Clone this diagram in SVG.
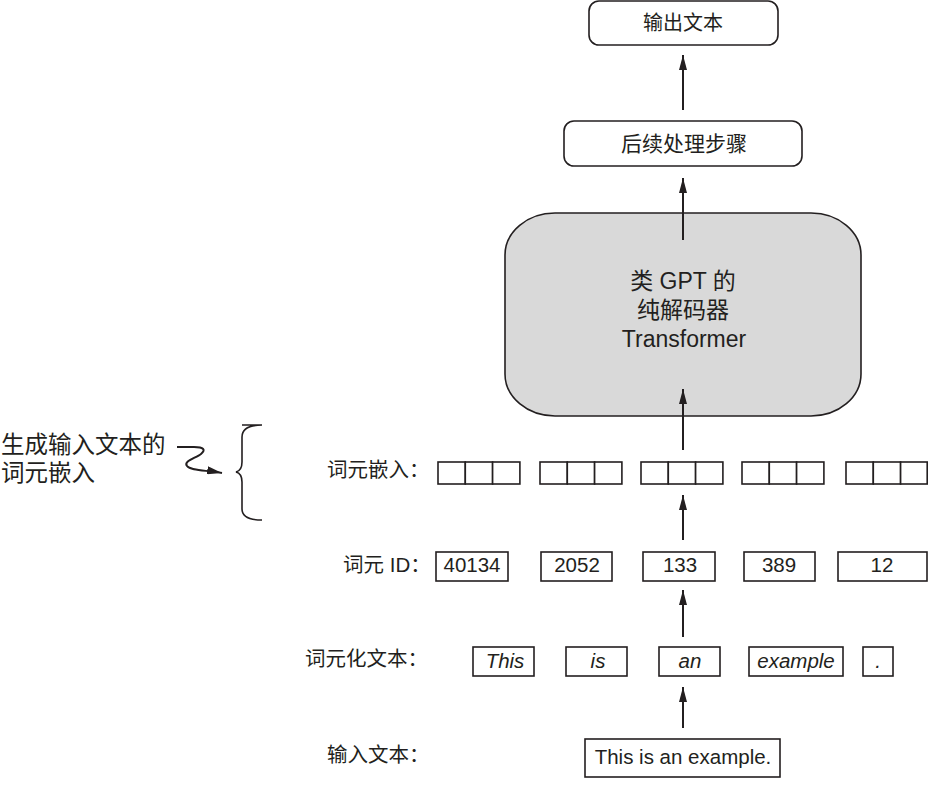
<svg xmlns="http://www.w3.org/2000/svg" width="928" height="793" viewBox="0 0 928 793">
<defs>
<style>
.bx{fill:#fff;stroke:#231f20;stroke-width:1.6}
.cell{fill:#fff;stroke:#231f20;stroke-width:1.6}
.t{font-family:"Liberation Sans","Noto Sans CJK SC",sans-serif;fill:#231f20}
.c{text-anchor:middle}
.lab{font-size:20.5px}
.num{font-size:20.5px}
.it{font-size:20.5px;font-style:italic}
.ar{stroke:#231f20;stroke-width:2;fill:none;marker-end:url(#ah)}
</style>
<marker id="ah" viewBox="0 0 15 8" refX="15" refY="4" markerWidth="15" markerHeight="8" markerUnits="userSpaceOnUse" orient="auto">
<path d="M0,0 L15,4 L0,8 z" fill="#231f20"/>
</marker>
</defs>
<rect width="928" height="793" fill="#fff"/>

<g id="output">
<rect class="bx" x="589" y="1" width="189" height="44" rx="10"/>
<text class="t c" x="683" y="30" font-size="20">输出文本</text>
</g>

<g id="postprocess">
<rect class="bx" x="564" y="121" width="238" height="45" rx="10"/>
<text class="t c" x="684" y="151" font-size="21">后续处理步骤</text>
</g>

<g id="transformer">
<rect x="505" y="213" width="356" height="203" rx="50" ry="42" fill="#d9d9d9" stroke="#231f20" stroke-width="1.6"/>
<text class="t c" x="683" y="289" font-size="23">类 GPT 的</text>
<text class="t c" x="683" y="318" font-size="23">纯解码器</text>
<text class="t c" x="684" y="347" font-size="23">Transformer</text>
</g>

<g id="side-note">
<text class="t" x="1" y="453" font-size="23.5">生成输入文本的</text>
<text class="t" x="1" y="481" font-size="23.5">词元嵌入</text>
<path d="M242,425 L262,425 M262,425 C248,425 242,429 242,437 L242,462 C242,468 240,471 236,472 C240,473 242,476 242,482 L242,509 C242,516 248,520 262,520" fill="none" stroke="#231f20" stroke-width="1.6"/>
</g>

<g id="labels">
<text class="t lab" x="327" y="477">词元嵌入：</text>
<text class="t lab" x="343" y="572">词元 ID：</text>
<text class="t lab" x="305" y="666">词元化文本：</text>
<text class="t lab" x="327" y="762">输入文本：</text>
</g>

<g id="embeddings">
<rect class="cell" x="438" y="462" width="27.3" height="22"/>
<rect class="cell" x="465.3" y="462" width="27.3" height="22"/>
<rect class="cell" x="492.6" y="462" width="27.3" height="22"/>
<rect class="cell" x="540" y="462" width="27.3" height="22"/>
<rect class="cell" x="567.3" y="462" width="27.3" height="22"/>
<rect class="cell" x="594.6" y="462" width="27.3" height="22"/>
<rect class="cell" x="641" y="462" width="27.3" height="22"/>
<rect class="cell" x="668.3" y="462" width="27.3" height="22"/>
<rect class="cell" x="695.6" y="462" width="27.3" height="22"/>
<rect class="cell" x="742" y="462" width="27.3" height="22"/>
<rect class="cell" x="769.3" y="462" width="27.3" height="22"/>
<rect class="cell" x="796.6" y="462" width="27.3" height="22"/>
<rect class="cell" x="846" y="462" width="27.3" height="22"/>
<rect class="cell" x="873.3" y="462" width="27.3" height="22"/>
<rect class="cell" x="900.6" y="462" width="26.6" height="22"/>
</g>

<g id="token-ids">
<rect class="bx" x="436" y="552" width="72" height="29"/>
<text class="t c num" x="472" y="572">40134</text>
<rect class="bx" x="541" y="552" width="71" height="29"/>
<text class="t c num" x="577" y="572">2052</text>
<rect class="bx" x="643" y="552" width="72" height="29"/>
<text class="t c num" x="680" y="572">133</text>
<rect class="bx" x="744" y="552" width="71" height="29"/>
<text class="t c num" x="779" y="572">389</text>
<rect class="bx" x="838" y="552" width="89" height="29"/>
<text class="t c num" x="882" y="572">12</text>
</g>

<g id="tokens">
<rect class="bx" x="473" y="647" width="61" height="29"/>
<text class="t c it" x="505" y="668">This</text>
<rect class="bx" x="566" y="647" width="61" height="29"/>
<text class="t c it" x="598" y="668">is</text>
<rect class="bx" x="659" y="647" width="61" height="29"/>
<text class="t c it" x="690" y="668">an</text>
<rect class="bx" x="749" y="647" width="94" height="29"/>
<text class="t c it" x="796" y="668">example</text>
<rect class="bx" x="863" y="647" width="30" height="29"/>
<text class="t c it" x="878" y="668">.</text>
</g>

<g id="input">
<rect class="bx" x="585" y="739" width="195" height="38"/>
<text class="t c num" x="683" y="764">This is an example.</text>
</g>

<g id="connectors">
<line class="ar" x1="683" y1="110" x2="683" y2="55"/>
<line class="ar" x1="683" y1="240" x2="683" y2="178"/>
<line class="ar" x1="683" y1="450" x2="683" y2="389"/>
<line class="ar" x1="683" y1="540" x2="683" y2="495"/>
<line class="ar" x1="683" y1="637" x2="683" y2="590"/>
<line class="ar" x1="683" y1="728" x2="683" y2="687"/>
<path class="ar" d="M177,447 L194,447 C204,447 206,450 201,454 C196,458 183,461 187,466 C191,471 206,470 222,473" stroke-width="1.4"/>
</g>
</svg>
